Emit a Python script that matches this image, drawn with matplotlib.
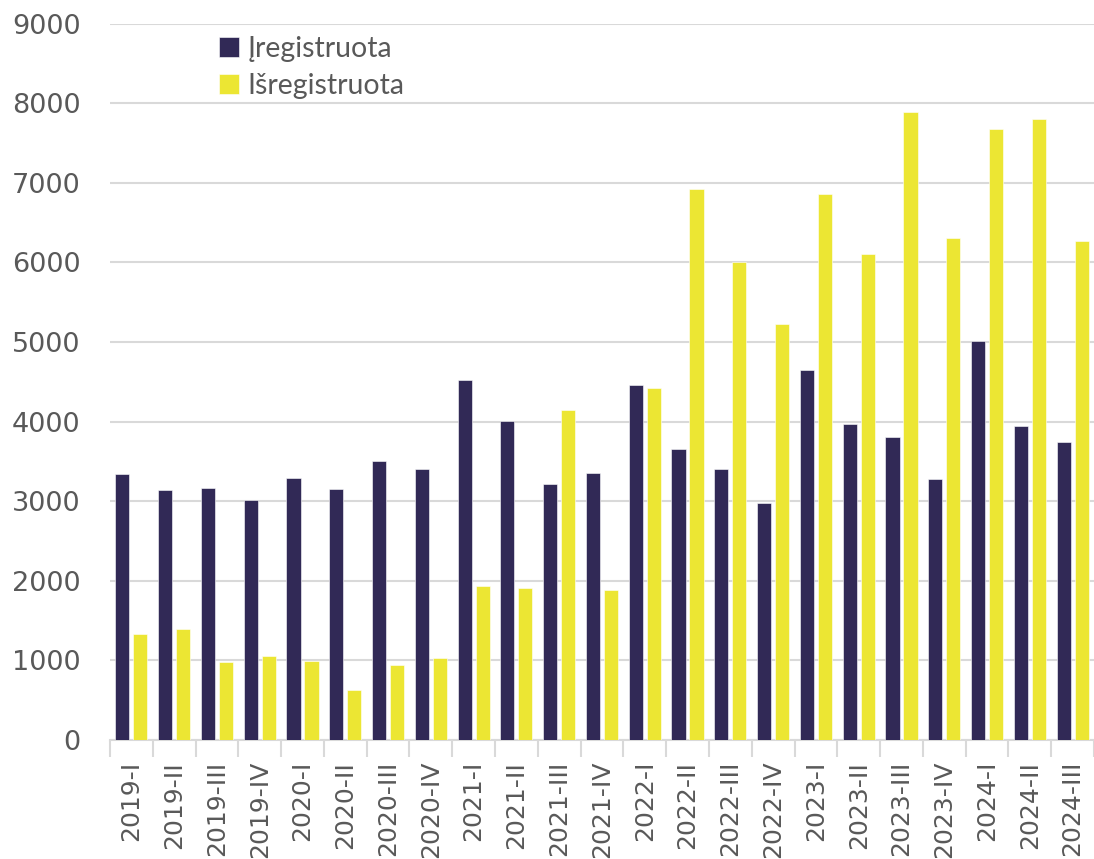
import numpy as np
import matplotlib
matplotlib.use('Agg')
import matplotlib.pyplot as plt

quarters = ['2019-I', '2019-II', '2019-III', '2019-IV',
            '2020-I', '2020-II', '2020-III', '2020-IV',
            '2021-I', '2021-II', '2021-III', '2021-IV',
            '2022-I', '2022-II', '2022-III', '2022-IV',
            '2023-I', '2023-II', '2023-III', '2023-IV',
            '2024-I', '2024-II', '2024-III']
iregistruota = [3340, 3140, 3170, 3020, 3290, 3150, 3500, 3410,
                4520, 4010, 3210, 3350, 4460, 3650, 3410, 2980,
                4650, 3970, 3810, 3280, 5010, 3950, 3740]
isregistruota = [1330, 1390, 980, 1060, 990, 630, 940, 1030,
                 1940, 1910, 4140, 1890, 4420, 6920, 6010, 5230,
                 6860, 6110, 7890, 6300, 7670, 7800, 6270]

dark = '#312956'
yellow = '#ece633'
grey = '#595959'

fig = plt.figure(figsize=(10.94, 8.59), dpi=100)
ax = fig.add_axes([0.1005, 0.1385, 0.8995, 0.8341])

x = np.arange(len(quarters))
w = 0.33
ax.bar(x - 0.21, iregistruota, w, color=dark, edgecolor='white', linewidth=0.4,
       label='Įregistruota', zorder=3)
ax.bar(x + 0.21, isregistruota, w, color=yellow, edgecolor='white', linewidth=0.4,
       label='Išregistruota', zorder=3)

ax.set_xlim(-0.5, len(quarters) - 0.5)
ax.set_ylim(0, 9000)
ax.set_yticks(range(0, 9001, 1000))
ax.yaxis.grid(True, color='#d9d9d9', linewidth=1.5, zorder=0)
ax.set_axisbelow(True)

for s in ['top', 'right', 'left']:
    ax.spines[s].set_visible(False)
ax.spines['bottom'].set_color('#d9d9d9')
ax.spines['bottom'].set_linewidth(1.5)

ax.set_xticks(x)
ax.set_xticklabels(quarters, rotation=90, fontsize=18, color=grey)
ax.set_xticks(np.arange(-0.5, len(quarters)), minor=True)
ax.tick_params(axis='x', which='major', length=0, pad=15)
ax.tick_params(axis='x', which='minor', length=12, width=1.5, color='#d9d9d9')
ax.tick_params(axis='y', length=0, pad=21, labelsize=19.5, labelcolor=grey)

ax.legend(loc='upper left', bbox_to_anchor=(0.19, 0.971), bbox_transform=fig.transFigure,
          frameon=False, prop={'family': 'Lato', 'size': 20.5}, labelcolor=grey,
          handlelength=0.7, handleheight=0.7, handletextpad=0.3, labelspacing=0.38,
          borderaxespad=0)

fig.savefig('out.png', dpi=100)
